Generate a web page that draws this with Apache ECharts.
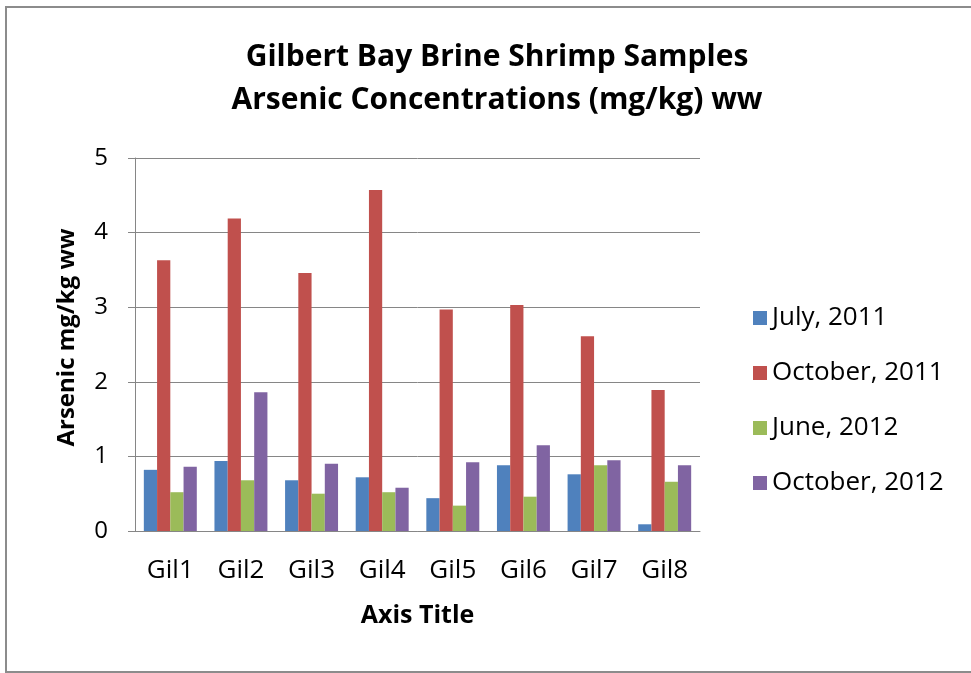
<!DOCTYPE html>
<html style="height: 100%">
<head>
	<meta charset="utf-8">
	<script type="text/javascript" src="https://cdn.jsdelivr.net/npm/echarts@6/dist/echarts.min.js"></script>
</head>
<body style="height: 100%; margin: 0; background: #fff">
	<div id="container" style="width: 971px; height: 673px"></div>
	<script>
	// sites on the x axis
	var sites = ['Gil1', 'Gil2', 'Gil3', 'Gil4', 'Gil5', 'Gil6', 'Gil7', 'Gil8'];
	// arsenic mg/kg ww
	var july2011 = [0.82, 0.94, 0.68, 0.72, 0.44, 0.88, 0.76, 0.09];
	var oct2011 = [3.63, 4.19, 3.46, 4.57, 2.97, 3.03, 2.61, 1.89];
	var june2012 = [0.52, 0.68, 0.50, 0.52, 0.34, 0.46, 0.88, 0.66];
	var oct2012 = [0.86, 1.86, 0.90, 0.58, 0.92, 1.15, 0.95, 0.88];
	var yTicks = [0, 1, 2, 3, 4, 5];

	var font = "'Open Sans', Lato, sans-serif";
	var myChart = echarts.init(document.getElementById('container'));

	function bar(name, data, color) {
		return {
			name: name,
			type: 'bar',
			data: data,
			barGap: '0%',
			barCategoryGap: '25%',
			itemStyle: { color: color }
		};
	}

	var option = {
		animation: false,
		textStyle: { fontFamily: font },
		graphic: [{
			type: 'rect',
			shape: { x: 6, y: 7, width: 990, height: 665 },
			style: { fill: 'none', stroke: '#8c8c8c', lineWidth: 2 }
		}],
		title: {
			text: 'Gilbert Bay Brine Shrimp Samples\nArsenic Concentrations (mg/kg) ww',
			left: 492,
			top: 31,
			textAlign: 'center',
			textStyle: { fontFamily: font, fontSize: 30, fontWeight: 'bold', color: '#000', lineHeight: 43 }
		},
		legend: {
			orient: 'vertical',
			left: 748,
			top: 300,
			itemWidth: 14,
			itemHeight: 14,
			itemGap: 29,
			icon: 'rect',
			textStyle: { fontFamily: font, fontSize: 26, color: '#000' },
			data: ['July, 2011', 'October, 2011', 'June, 2012', 'October, 2012']
		},
		grid: { left: 135, right: 271, top: 158, bottom: 142 },
		xAxis: {
			type: 'category',
			data: sites,
			name: 'Axis Title',
			nameLocation: 'middle',
			nameGap: 72,
			nameTextStyle: { fontFamily: font, fontSize: 25, fontWeight: 'bold', color: '#000' },
			axisLine: { lineStyle: { color: '#868686', width: 1 } },
			axisTick: { show: false },
			axisLabel: { fontSize: 26, color: '#000', margin: 27 }
		},
		yAxis: {
			type: 'value',
			min: yTicks[0],
			max: yTicks[yTicks.length - 1],
			interval: 1,
			name: 'Arsenic mg/kg ww',
			nameLocation: 'middle',
			nameGap: 56,
			nameTextStyle: { fontFamily: font, fontSize: 24, fontWeight: 'bold', color: '#000', padding: [0, 0, 0, 14] },
			axisLine: { show: true, lineStyle: { color: '#868686', width: 1 } },
			axisTick: { show: true, length: 7, lineStyle: { color: '#868686' } },
			axisLabel: { fontSize: 24, color: '#000', margin: 27 },
			splitLine: { lineStyle: { color: '#868686', width: 1 } }
		},
		series: [
			bar('July, 2011', july2011, '#4F81BD'),
			bar('October, 2011', oct2011, '#C0504D'),
			bar('June, 2012', june2012, '#9BBB59'),
			bar('October, 2012', oct2012, '#8064A2')
		]
	};
	myChart.setOption(option);
	</script>
</body>
</html>
